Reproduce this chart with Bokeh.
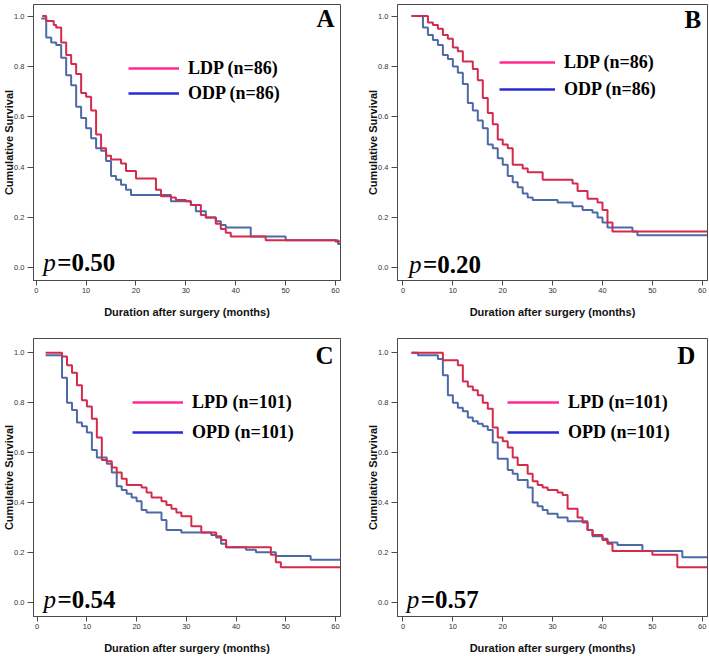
from bokeh.plotting import figure
from bokeh.models import Range1d, FixedTicker, Label, Legend, LegendItem, NumeralTickFormatter
from bokeh.layouts import row, column
from bokeh.embed import file_html
from bokeh.resources import INLINE

# ---------------- data ----------------
x_ticks = [0, 10, 20, 30, 40, 50, 60]
y_ticks = [0.0, 0.2, 0.4, 0.6, 0.8, 1.0]
x_label = "Duration after surgery (months)"
y_label = "Cumulative Survival"

A_LDP_t = [1.2, 2, 3.5, 4, 5, 6, 7, 8, 9, 10, 11, 12, 13, 14, 15, 17, 18, 20, 24, 25, 27, 28, 30, 31, 33, 34, 36, 37, 38, 39, 46, 60, 61]
A_LDP_s = [1.0, 0.98, 0.965, 0.955, 0.895, 0.845, 0.81, 0.77, 0.695, 0.68, 0.625, 0.53, 0.475, 0.445, 0.43, 0.415, 0.385, 0.355, 0.31, 0.285, 0.28, 0.27, 0.265, 0.25, 0.21, 0.2, 0.175, 0.155, 0.14, 0.125, 0.11, 0.105, 0.105]
A_ODP_t = [1, 2, 3, 4, 5, 6, 7, 8, 9, 10, 11, 12, 13, 14, 15, 16, 17, 18, 19, 27, 31, 32, 34, 36, 37, 38, 43, 50, 60.5, 61]
A_ODP_s = [0.99, 0.915, 0.895, 0.885, 0.835, 0.765, 0.725, 0.64, 0.595, 0.555, 0.515, 0.475, 0.465, 0.425, 0.365, 0.35, 0.33, 0.31, 0.29, 0.265, 0.25, 0.225, 0.2, 0.185, 0.17, 0.16, 0.125, 0.11, 0.095, 0.095]

B_LDP_t = [1.7, 5, 6, 7, 8, 9, 10, 11, 12, 14, 15, 16, 17, 18, 19, 20, 21, 22, 24, 25, 28, 34, 35, 37, 39, 40, 41, 42, 61]
B_LDP_s = [1.0, 0.975, 0.965, 0.95, 0.925, 0.91, 0.875, 0.86, 0.82, 0.79, 0.745, 0.675, 0.615, 0.57, 0.51, 0.49, 0.475, 0.41, 0.395, 0.38, 0.35, 0.335, 0.305, 0.275, 0.26, 0.23, 0.18, 0.145, 0.145]
B_ODP_t = [1.7, 4, 5, 6, 7, 8, 9, 10, 11, 12, 13, 14, 15, 16, 17, 18, 19, 20, 21, 22, 23, 24, 25, 26, 31, 34, 36, 38, 39, 40, 41, 46, 47, 61]
B_ODP_s = [1.0, 0.955, 0.925, 0.905, 0.885, 0.845, 0.83, 0.8, 0.775, 0.73, 0.655, 0.625, 0.585, 0.555, 0.49, 0.475, 0.435, 0.41, 0.365, 0.34, 0.32, 0.295, 0.28, 0.27, 0.26, 0.245, 0.23, 0.22, 0.2, 0.18, 0.16, 0.145, 0.13, 0.13]

C_LPD_t = [1.7, 5, 6, 7, 8, 9, 10, 11, 12, 13, 14, 15, 16, 17, 18, 21, 22, 23, 25, 26, 27, 28, 29, 31, 33, 36, 37, 38, 47, 48, 49, 61]
C_LPD_s = [1.0, 0.985, 0.95, 0.92, 0.87, 0.81, 0.785, 0.735, 0.66, 0.57, 0.565, 0.54, 0.52, 0.495, 0.47, 0.46, 0.44, 0.42, 0.405, 0.39, 0.375, 0.36, 0.345, 0.305, 0.28, 0.265, 0.25, 0.22, 0.19, 0.16, 0.14, 0.14]
C_OPD_t = [1.7, 5, 6, 7, 8, 9, 10, 11, 12, 14, 15, 16, 17, 18, 19, 20, 21, 22, 25, 26, 29, 35, 36, 37, 38, 42, 44, 48, 55, 61]
C_OPD_s = [0.99, 0.9, 0.8, 0.77, 0.72, 0.705, 0.68, 0.61, 0.58, 0.555, 0.52, 0.465, 0.45, 0.435, 0.42, 0.405, 0.37, 0.36, 0.33, 0.29, 0.28, 0.27, 0.26, 0.235, 0.22, 0.21, 0.2, 0.185, 0.17, 0.17]

D_LPD_t = [1.7, 8, 11, 12, 13, 14, 15, 16, 17, 18, 19, 20, 21, 22, 23, 25, 26, 27, 28, 29, 31, 32, 33, 35, 36, 37, 38, 40, 41, 42, 50, 55, 61]
D_LPD_s = [1.0, 0.97, 0.95, 0.885, 0.865, 0.85, 0.83, 0.8, 0.775, 0.7, 0.66, 0.645, 0.62, 0.58, 0.55, 0.515, 0.485, 0.47, 0.46, 0.45, 0.44, 0.43, 0.375, 0.34, 0.32, 0.29, 0.27, 0.25, 0.235, 0.205, 0.19, 0.14, 0.14]
D_OPD_t = [1.7, 3, 7, 8, 9, 10, 11, 12, 13, 14, 15, 16, 17, 18, 19, 21, 22, 23, 25, 26, 27, 28, 29, 31, 33, 37, 38, 40, 41, 43, 48, 56, 61]
D_OPD_s = [1.0, 0.99, 0.975, 0.91, 0.83, 0.8, 0.78, 0.765, 0.74, 0.725, 0.715, 0.705, 0.69, 0.64, 0.575, 0.53, 0.515, 0.49, 0.46, 0.4, 0.385, 0.37, 0.355, 0.34, 0.325, 0.29, 0.265, 0.255, 0.24, 0.23, 0.205, 0.18, 0.18]

legend_A = ["LDP (n=86)", "ODP (n=86)"]
legend_C = ["LPD (n=101)", "OPD (n=101)"]
panel_letters = ["A", "B", "C", "D"]
p_values = ["=0.50", "=0.20", "=0.54", "=0.57"]

# ---------------- styles ----------------
RED = "#d42a4c"
BLUE = "#4d6aa6"
PINK = "#ff2a92"
LBLUE = "#2a2ad8"
FRAME = "#4a4a4a"
SERIF = "Liberation Serif"
SANS = "Liberation Sans"
NAN = float("nan")


def panel(tL, sL, tO, sO, labels, letter, pval, cfg):
    p = figure(width=cfg["w"], height=cfg["h"],
               x_range=Range1d(*cfg["xr"]), y_range=Range1d(*cfg["yr"]),
               output_backend="svg", toolbar_location=None,
               min_border_left=cfg["bl"], min_border_right=cfg["br"],
               min_border_top=cfg["bt"], min_border_bottom=cfg["bb"])
    p.grid.visible = False
    p.background_fill_color = "white"
    p.border_fill_color = "white"
    p.outline_line_color = FRAME
    p.outline_line_width = 1

    for ax in (p.xaxis[0], p.yaxis[0]):
        ax.axis_line_color = FRAME
        ax.major_tick_line_color = FRAME
        ax.minor_tick_line_color = None
        ax.major_tick_in = 0
        ax.major_label_text_font = SANS
        ax.major_label_text_font_size = "7.5px"
        ax.major_label_text_color = "#333333"
        ax.axis_label_text_font = SANS
        ax.axis_label_text_font_style = "bold"
        ax.axis_label_text_font_size = "11px"
        ax.axis_label_text_color = "#111111"
    p.xaxis.ticker = FixedTicker(ticks=x_ticks)
    p.yaxis.ticker = FixedTicker(ticks=y_ticks)
    p.yaxis.formatter = NumeralTickFormatter(format="0.0")
    p.xaxis.major_tick_out = 5
    p.yaxis.major_tick_out = 6
    p.xaxis.major_label_standoff = 2
    p.yaxis.major_label_standoff = 3
    p.xaxis.axis_label_standoff = 10
    p.yaxis.axis_label_standoff = -4
    p.xaxis.axis_label = x_label
    p.yaxis.axis_label = y_label

    p.step(tO, sO, mode="after", line_color=BLUE, line_width=2)
    p.step(tL, sL, mode="after", line_color=RED, line_width=2)

    # legend (line samples drawn by Bokeh's legend)
    r1 = p.line(x=[NAN], y=[NAN], line_color=PINK, line_width=2.5)
    r2 = p.line(x=[NAN], y=[NAN], line_color=LBLUE, line_width=2.5)
    leg = Legend(items=[LegendItem(label=labels[0], renderers=[r1]),
                        LegendItem(label=labels[1], renderers=[r2])],
                 location=cfg["legloc"], orientation="vertical",
                 padding=0, margin=0, spacing=cfg["legsp"],
                 glyph_width=cfg["gw"], glyph_height=22, label_height=22,
                 label_standoff=9,
                 label_text_font=SERIF, label_text_font_style="bold",
                 label_text_font_size="18px", label_text_color="black",
                 background_fill_alpha=0, border_line_color=None)
    p.add_layout(leg)

    p.add_layout(Label(x=cfg["letter_xy"][0], y=cfg["letter_xy"][1], text=letter,
                       text_align="right", text_baseline="middle",
                       text_font=SERIF, text_font_style="bold",
                       text_font_size="25px", text_color="black"))
    px, py = cfg["p_xy"]
    p.add_layout(Label(x=px, y=py, text="p", text_baseline="middle",
                       text_font=SERIF, text_font_style="italic",
                       text_font_size="25px", text_color="black"))
    p.add_layout(Label(x=px, y=py, x_offset=14, text=pval, text_baseline="middle",
                       text_font=SERIF, text_font_style="bold",
                       text_font_size="25px", text_color="black"))
    return p


cfgA = dict(w=354, h=320, bl=33, br=14, bt=4, bb=38, xr=(-0.55, 61.0), yr=(-0.05, 1.046),
            legloc=(95, 176), legsp=3, gw=51, letter_xy=(59.8, 0.99), p_xy=(1.4, 0.02))
cfgB = dict(w=355, h=320, bl=43, br=2, bt=4, bb=38, xr=(-1.1, 61.05), yr=(-0.05, 1.046),
            legloc=(102, 180), legsp=5, gw=56, letter_xy=(59.8, 0.985), p_xy=(1.2, 0.013))
cfgC = dict(w=354, h=336, bl=33, br=14, bt=18, bb=36, xr=(-0.74, 61.0), yr=(-0.057, 1.057),
            legloc=(99, 173), legsp=8, gw=51, letter_xy=(59.6, 0.988), p_xy=(1.25, 0.011))
cfgD = dict(w=355, h=336, bl=43, br=2, bt=18, bb=36, xr=(-1.1, 61.05), yr=(-0.057, 1.057),
            legloc=(110, 173), legsp=8, gw=52, letter_xy=(58.6, 0.988), p_xy=(0.75, 0.011))

pA = panel(A_LDP_t, A_LDP_s, A_ODP_t, A_ODP_s, legend_A, panel_letters[0], p_values[0], cfgA)
pB = panel(B_LDP_t, B_LDP_s, B_ODP_t, B_ODP_s, legend_A, panel_letters[1], p_values[1], cfgB)
pC = panel(C_LPD_t, C_LPD_s, C_OPD_t, C_OPD_s, legend_C, panel_letters[2], p_values[2], cfgC)
pD = panel(D_LPD_t, D_LPD_s, D_OPD_t, D_OPD_s, legend_C, panel_letters[3], p_values[3], cfgD)

layout = column(row(pA, pB), row(pC, pD))
open("out.html", "w").write(file_html(layout, INLINE))
